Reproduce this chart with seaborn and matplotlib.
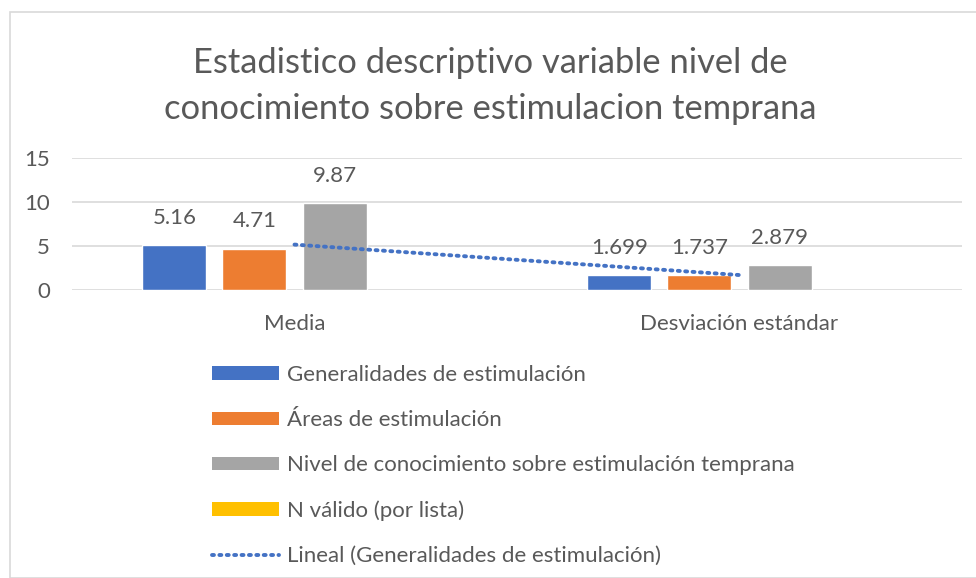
import numpy as np
import pandas as pd
import matplotlib
matplotlib.use("Agg")
import matplotlib.pyplot as plt
import seaborn as sns
from matplotlib.patches import Patch, Rectangle
from matplotlib.lines import Line2D

categories = ["Media", "Desviación estándar"]
series = ["Generalidades de estimulación", "Áreas de estimulación",
          "Nivel de conocimiento sobre estimulación temprana", "N válido (por lista)"]
generalidades = [5.16, 1.699]
areas = [4.71, 1.737]
nivel = [9.87, 2.879]
n_valido = [np.nan, np.nan]
colors = ["#4472C4", "#ED7D31", "#A5A5A5", "#FFC000"]
title = "Estadistico descriptivo variable nivel de\nconocimiento sobre estimulacion temprana"
trend_label = "Lineal (Generalidades de estimulación)"
yticks = [0, 5, 10, 15]

sns.set_theme(style="white")
plt.rcParams["font.family"] = ["Lato", "DejaVu Sans"]
text_color = "#595959"
fs = 16

rows = []
for s, vals in zip(series, [generalidades, areas, nivel, n_valido]):
    for c, v in zip(categories, vals):
        rows.append({"cat": c, "serie": s, "value": v})
df = pd.DataFrame(rows)

fig = plt.figure(figsize=(9.76, 5.78), dpi=100)
ax = fig.add_axes([72 / 976, 1 - 290 / 578, 890 / 976, 132 / 578])

sns.barplot(data=df, x="cat", y="value", hue="serie", hue_order=series,
            order=categories, palette=colors, width=0.72, gap=0.2,
            errorbar=None, legend=False, ax=ax, saturation=1)

for cont in ax.containers:
    for rect in cont:
        h = rect.get_height()
        if np.isnan(h) or h == 0:
            continue
        ax.annotate(f"{h:g}", (rect.get_x() + rect.get_width() / 2, h),
                    xytext=(0, 19.5), textcoords="offset points",
                    ha="center", va="center", fontsize=fs, color=text_color)

# linear trendline for first series
xs = np.arange(len(categories))
coef = np.polyfit(xs, generalidades, 1)
ax.plot(xs, np.polyval(coef, xs), color="#4472C4", lw=2.8,
        linestyle=(0, (0.5, 1.4)), dash_capstyle="round")

ax.set_ylim(0, 15)
ax.set_xlim(-0.5, 1.5)
ax.set_yticks(yticks)
ax.yaxis.grid(True, color="#D9D9D9", lw=1.2)
ax.set_axisbelow(True)
for sp in ax.spines.values():
    sp.set_visible(False)
ax.set_xlabel("")
ax.set_ylabel("")
ax.tick_params(axis="y", labelsize=fs, labelcolor=text_color, length=0, pad=16)
ax.tick_params(axis="x", labelsize=fs, labelcolor=text_color, length=0, pad=17)

fig.text(0.502, 1 - 86 / 578, title, ha="center", va="center", fontsize=24.8,
         color=text_color, linespacing=1.55)

handles = [Patch(facecolor=c, edgecolor="none") for c in colors]
handles.append(Line2D([0], [0], color="#4472C4", lw=2.8, linestyle=(0, (0.5, 1.4)),
                      dash_capstyle="round"))
labels = series + [trend_label]
leg = fig.legend(handles, labels, loc="upper left",
                 bbox_to_anchor=(192 / 976, 1 - 345 / 578), frameon=False,
                 fontsize=fs, labelcolor=text_color, handlelength=3.0,
                 handleheight=0.55, handletextpad=0.38, labelspacing=1.13)

fig.patches.append(Rectangle((10 / 976, 0), 1.2, 1 - 12 / 578, transform=fig.transFigure,
                             fill=False, edgecolor="#D9D9D9", lw=1.2))

fig.savefig("out.png", dpi=100)
